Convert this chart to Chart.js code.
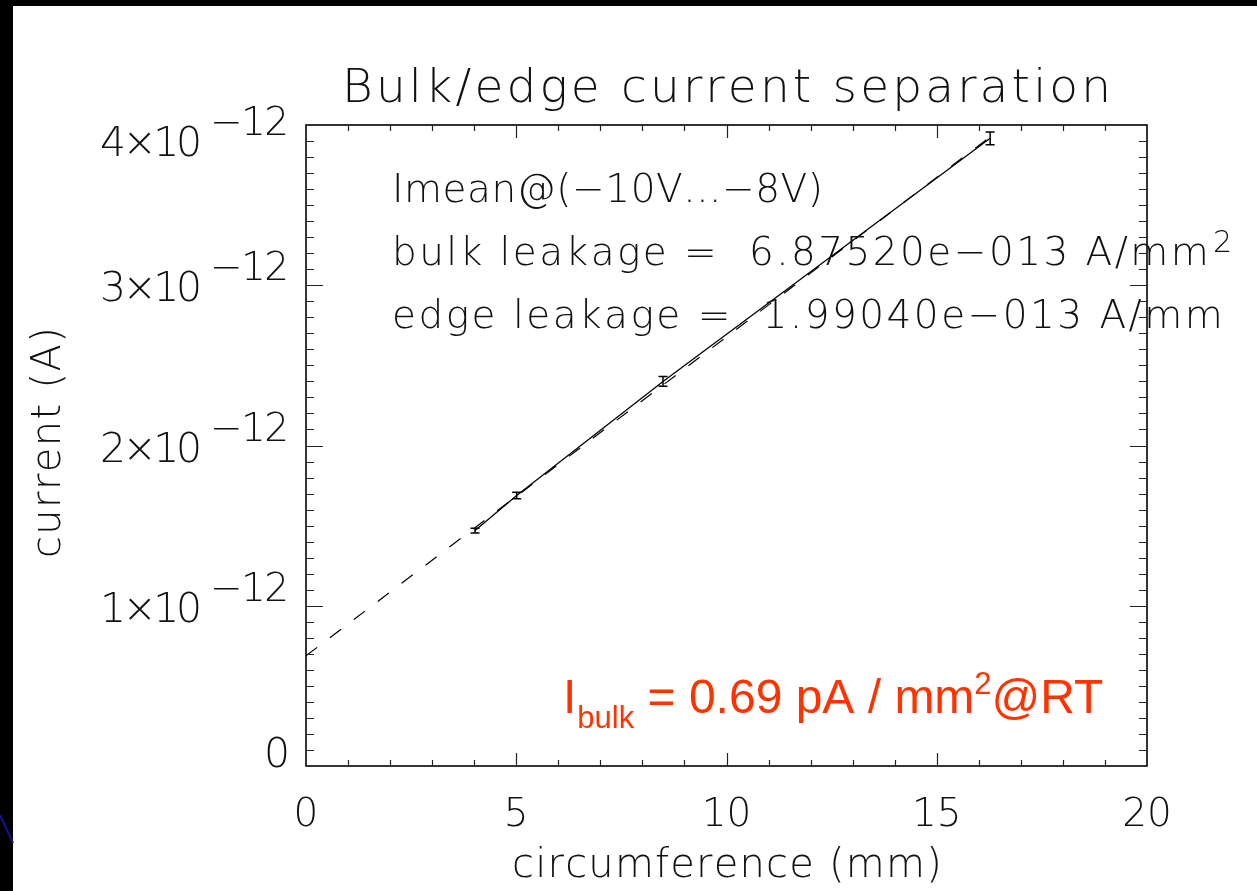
<!DOCTYPE html>
<html>
<head>
<meta charset="utf-8">
<script src="https://cdn.jsdelivr.net/npm/chart.js@4.4.1/dist/chart.umd.min.js"></script>
<style>
  html, body { margin: 0; padding: 0; background: #fff; overflow: hidden; }
  #chart { display: block; }
</style>
</head>
<body>
<canvas id="chart" width="1257" height="891"></canvas>
<script>
// data
const circumference = [4.02, 5.01, 8.49, 16.27];           // mm
const currentMean = [1.469e-12, 1.6875e-12, 2.40e-12, 3.917e-12]; // A
const currentErr = [0.015e-12, 0.02e-12, 0.03e-12, 0.04e-12];
const fitX = [0, 16.27];
const fitY = [0.6875e-12, 0.6875e-12 + 1.9904e-13 * 16.27];
const xTickLabels = ['0', '5', '10', '15', '20'];
const yTickLabels = ['0', '1', '2', '3', '4'];
const infoLines = [
  'Imean@(\u221210V...\u22128V)',
  'bulk leakage =  6.87520e\u2212013 A/mm',
  'edge leakage =  1.99040e\u2212013 A/mm'
];

const THIN = '200 ';
const FAM = '"DejaVu Sans", sans-serif';
const INK = '#111';

// draw text spread out to a given width (hershey-like wide spacing)
function spaced(ctx, text, x, y, width) {
  const chars = Array.from(text);
  const natural = ctx.measureText(text).width;
  const extra = chars.length > 1 ? (width - natural) / (chars.length - 1) : 0;
  let cx = x;
  ctx.textAlign = 'left';
  for (const ch of chars) {
    ctx.fillText(ch, cx, y);
    cx += ctx.measureText(ch).width + extra;
  }
  return cx - extra;
}

const idlPlugin = {
  id: 'idlPlot',
  beforeDraw(chart) {
    const ctx = chart.ctx;
    ctx.save();
    ctx.fillStyle = '#fff';
    ctx.fillRect(0, 0, chart.width, chart.height);
    // slide frame
    ctx.fillStyle = '#000';
    ctx.fillRect(0, 0, chart.width, 6);
    ctx.fillRect(0, 0, 13, chart.height);
    ctx.strokeStyle = '#14148c';
    ctx.lineWidth = 2;
    ctx.beginPath();
    ctx.moveTo(0, 815);
    ctx.lineTo(13, 843);
    ctx.stroke();
    ctx.restore();
  },
  afterDatasetsDraw(chart) {
    const ctx = chart.ctx;
    const xs = chart.scales.x, ys = chart.scales.y;
    const a = chart.chartArea;
    ctx.save();

    // error bars
    ctx.strokeStyle = '#000';
    ctx.lineWidth = 1.5;
    for (let i = 0; i < circumference.length; i++) {
      const px = xs.getPixelForValue(circumference[i]);
      const y1 = ys.getPixelForValue(currentMean[i] - currentErr[i]);
      const y2 = ys.getPixelForValue(currentMean[i] + currentErr[i]);
      ctx.beginPath();
      ctx.moveTo(px, y1); ctx.lineTo(px, y2);
      ctx.moveTo(px - 4.5, y1); ctx.lineTo(px + 4.5, y1);
      ctx.moveTo(px - 4.5, y2); ctx.lineTo(px + 4.5, y2);
      ctx.stroke();
    }

    // frame
    ctx.lineWidth = 1.6;
    ctx.strokeStyle = '#000';
    ctx.strokeRect(a.left, a.top, a.right - a.left, a.bottom - a.top);

    // ticks, inward on all four sides
    ctx.lineWidth = 1.2;
    ctx.strokeStyle = '#222';
    ctx.beginPath();
    for (let v = 1; v < 20; v++) {
      const px = Math.round(xs.getPixelForValue(v)) + 0.5;
      const len = v % 5 === 0 ? 13 : 6;
      ctx.moveTo(px, a.bottom); ctx.lineTo(px, a.bottom - len);
      ctx.moveTo(px, a.top); ctx.lineTo(px, a.top + len);
    }
    for (let k = 1; k < 40; k++) {
      const py = Math.round(ys.getPixelForValue(k * 1e-13)) + 0.5;
      const len = k % 10 === 0 ? 17 : 8;
      ctx.moveTo(a.left, py); ctx.lineTo(a.left + len, py);
      ctx.moveTo(a.right, py); ctx.lineTo(a.right - len, py);
    }
    ctx.stroke();

    ctx.fillStyle = INK;
    ctx.textBaseline = 'alphabetic';

    // x tick labels
    ctx.font = THIN + '39px ' + FAM;
    ctx.textAlign = 'center';
    xTickLabels.forEach(t => {
      const px = xs.getPixelForValue(Number(t));
      ctx.fillText(t, px, 826);
    });

    // y tick labels  n x 10^-12
    yTickLabels.forEach(t => {
      const v = Number(t) * 1e-12;
      const py = ys.getPixelForValue(v);
      const mid = Math.min(Math.max(py + 1, a.top + 16), a.bottom - 14);
      const base = mid + 15;
      ctx.font = THIN + '41px ' + FAM;
      ctx.textAlign = 'right';
      if (t === '0') {
        ctx.fillText('0', 290, base);
        return;
      }
      ctx.textAlign = 'left';
      spaced(ctx, t + '\u00d710', 100, base, 102);
      ctx.font = THIN + '39px ' + FAM;
      spaced(ctx, '\u221212', 210, base - 21, 79);
    });

    // axis titles
    ctx.font = THIN + '40px ' + FAM;
    spaced(ctx, 'circumference (mm)', 512, 877, 428);
    ctx.save();
    ctx.translate(60, 558);
    ctx.rotate(-Math.PI / 2);
    spaced(ctx, 'current (A)', 0, 0, 230);
    ctx.restore();

    // title
    ctx.font = THIN + '47px ' + FAM;
    spaced(ctx, 'Bulk/edge current separation', 342, 102, 768);

    // fit results
    ctx.font = THIN + '39px ' + FAM;
    spaced(ctx, infoLines[0], 392, 202, 426);
    spaced(ctx, infoLines[1], 392, 265, 816);
    ctx.font = THIN + '30px ' + FAM;
    ctx.fillText('2', 1213, 252);
    ctx.font = THIN + '39px ' + FAM;
    spaced(ctx, infoLines[2], 392, 328, 830);

    // red note
    ctx.fillStyle = '#ff3300';
    ctx.textAlign = 'left';
    const big = '48px "Liberation Sans", Arial, sans-serif';
    const small = '31px "Liberation Sans", Arial, sans-serif';
    let x = 563;
    ctx.font = big; ctx.fillText('I', x, 713); x += ctx.measureText('I').width + 1;
    ctx.font = small; ctx.fillText('bulk', x, 728); x += ctx.measureText('bulk').width;
    ctx.font = big; ctx.fillText(' = 0.69 pA / mm', x, 713); x += ctx.measureText(' = 0.69 pA / mm').width;
    ctx.font = small; ctx.fillText('2', x, 694); x += ctx.measureText('2').width;
    ctx.font = big; ctx.fillText('@RT', x, 713);

    ctx.restore();
  }
};

new Chart(document.getElementById('chart'), {
  type: 'scatter',
  data: {
    datasets: [
      {
        label: 'measured',
        data: circumference.map((c, i) => ({ x: c, y: currentMean[i] })),
        showLine: true,
        borderColor: '#000',
        borderWidth: 1.3,
        pointRadius: 0,
        tension: 0
      },
      {
        label: 'fit',
        data: fitX.map((c, i) => ({ x: c, y: fitY[i] })),
        showLine: true,
        borderColor: '#000',
        borderWidth: 1.2,
        borderDash: [14, 16],
        pointRadius: 0
      }
    ]
  },
  options: {
    responsive: false,
    animation: false,
    devicePixelRatio: 1,
    layout: { padding: { left: 306, right: 110, top: 125, bottom: 125 } },
    scales: {
      x: { type: 'linear', min: 0, max: 20, display: false },
      y: { type: 'linear', min: 0, max: 4e-12, display: false }
    },
    plugins: {
      legend: { display: false },
      tooltip: { enabled: false },
      title: { display: false }
    }
  },
  plugins: [idlPlugin]
});
</script>
</body>
</html>
